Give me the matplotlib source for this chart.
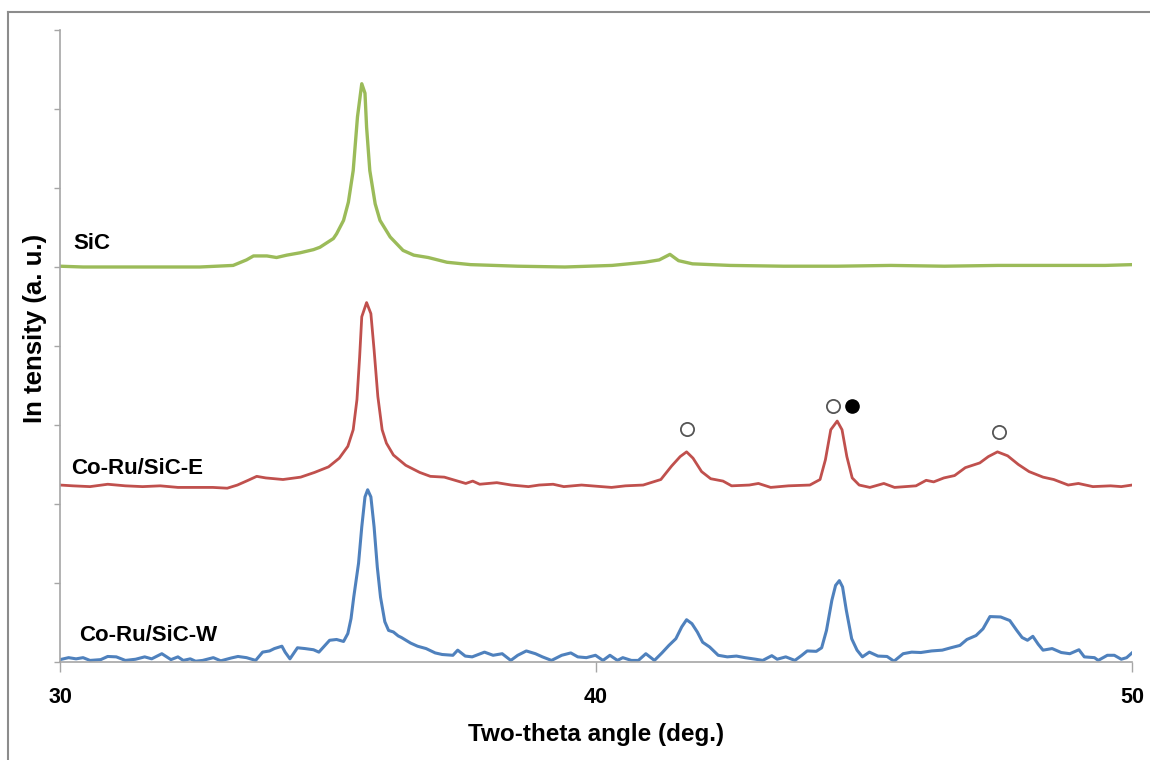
import numpy as np
import matplotlib
matplotlib.use('Agg')
import matplotlib.pyplot as plt
from matplotlib.lines import Line2D

plt.rcParams['font.family'] = ['Liberation Sans', 'DejaVu Sans']

# XRD patterns (2-theta in deg, intensity in offset a.u.)
sic_tt = [30.0, 30.43, 30.75, 31.37, 31.99, 32.61, 33.23, 33.48, 33.61, 33.86, 34.04, 34.23,
          34.48, 34.73, 34.85, 35.1, 35.16, 35.29, 35.38, 35.47, 35.55, 35.63, 35.69, 35.72,
          35.78, 35.88, 35.97, 36.16, 36.4, 36.6, 36.87, 37.22, 37.66, 38.54, 39.42, 40.3,
          40.91, 41.18, 41.38, 41.54, 41.8, 42.5, 43.5, 44.5, 45.5, 46.5, 47.5, 48.5, 49.5, 50.0]
sic_int = [5.01, 5.0, 5.0, 5.0, 5.0, 5.0, 5.02, 5.09, 5.14, 5.14, 5.12, 5.15,
           5.18, 5.22, 5.25, 5.36, 5.42, 5.59, 5.82, 6.22, 6.9, 7.32, 7.2, 6.77,
           6.22, 5.8, 5.59, 5.38, 5.21, 5.15, 5.12, 5.06, 5.03, 5.01, 5.0, 5.02,
           5.06, 5.09, 5.16, 5.08, 5.04, 5.02, 5.01, 5.01, 5.02, 5.01, 5.02, 5.02, 5.02, 5.03]

e_tt = [30.0, 30.24, 30.56, 30.89, 31.22, 31.54, 31.87, 32.2, 32.53, 32.85, 33.12, 33.31,
        33.51, 33.67, 33.84, 34.16, 34.49, 34.75, 35.01, 35.21, 35.37, 35.47, 35.54, 35.59,
        35.63, 35.72, 35.8, 35.86, 35.93, 36.01, 36.09, 36.22, 36.45, 36.71, 36.91, 37.17,
        37.37, 37.57, 37.7, 37.83, 38.15, 38.42, 38.74, 38.94, 39.2, 39.4, 39.73, 40.1,
        40.29, 40.55, 40.88, 41.21, 41.41, 41.57, 41.69, 41.81, 41.97, 42.14, 42.37, 42.53,
        42.86, 43.03, 43.26, 43.59, 43.99, 44.18, 44.28, 44.38, 44.5, 44.59, 44.68, 44.78,
        44.91, 45.11, 45.37, 45.57, 45.97, 46.16, 46.3, 46.49, 46.69, 46.89, 47.16, 47.32,
        47.49, 47.68, 47.88, 48.08, 48.34, 48.54, 48.81, 49.0, 49.27, 49.6, 49.8, 50.0]
e_int = [2.24, 2.23, 2.22, 2.25, 2.23, 2.22, 2.23, 2.21, 2.21, 2.21, 2.2, 2.24,
         2.3, 2.35, 2.33, 2.31, 2.34, 2.4, 2.47, 2.58, 2.73, 2.94, 3.32, 3.86,
         4.37, 4.55, 4.41, 3.95, 3.36, 2.94, 2.77, 2.62, 2.49, 2.4, 2.35, 2.34,
         2.3, 2.26, 2.29, 2.25, 2.27, 2.24, 2.22, 2.24, 2.25, 2.22, 2.24, 2.22,
         2.21, 2.23, 2.24, 2.31, 2.48, 2.6, 2.66, 2.58, 2.41, 2.32, 2.29, 2.23,
         2.24, 2.26, 2.21, 2.23, 2.24, 2.31, 2.56, 2.94, 3.05, 2.94, 2.6, 2.33,
         2.24, 2.21, 2.26, 2.21, 2.23, 2.3, 2.28, 2.33, 2.36, 2.46, 2.52, 2.6,
         2.66, 2.61, 2.5, 2.41, 2.34, 2.31, 2.24, 2.26, 2.22, 2.23, 2.22, 2.24]

w_tt = [30.0, 30.16, 30.3, 30.43, 30.56, 30.76, 30.89, 31.05, 31.22, 31.41, 31.58, 31.71,
        31.9, 32.07, 32.2, 32.3, 32.43, 32.53, 32.66, 32.86, 33.0, 33.19, 33.32, 33.48,
        33.65, 33.78, 33.91, 34.0, 34.14, 34.2, 34.29, 34.43, 34.57, 34.73, 34.83, 35.03,
        35.16, 35.29, 35.37, 35.43, 35.48, 35.57, 35.63, 35.69, 35.74, 35.8, 35.86, 35.92,
        35.98, 36.06, 36.13, 36.22, 36.31, 36.37, 36.54, 36.67, 36.83, 37.0, 37.13, 37.33,
        37.42, 37.56, 37.69, 37.92, 38.08, 38.25, 38.41, 38.54, 38.7, 38.87, 39.0, 39.17,
        39.36, 39.53, 39.66, 39.82, 39.99, 40.13, 40.26, 40.4, 40.5, 40.66, 40.79, 40.93,
        41.09, 41.23, 41.36, 41.49, 41.6, 41.69, 41.79, 41.89, 41.99, 42.12, 42.28, 42.45,
        42.62, 42.78, 42.98, 43.11, 43.28, 43.38, 43.54, 43.71, 43.84, 43.94, 44.11, 44.21,
        44.3, 44.4, 44.47, 44.54, 44.6, 44.67, 44.77, 44.87, 44.97, 45.1, 45.26, 45.43,
        45.56, 45.73, 45.89, 46.06, 46.26, 46.46, 46.62, 46.79, 46.92, 47.09, 47.22, 47.35,
        47.55, 47.72, 47.85, 47.95, 48.05, 48.15, 48.25, 48.34, 48.51, 48.68, 48.84, 49.01,
        49.11, 49.3, 49.37, 49.54, 49.67, 49.8, 49.9, 50.0]
w_int = [0.03, 0.055, 0.04, 0.055, 0.02, 0.03, 0.07, 0.065, 0.02, 0.035, 0.065, 0.04,
         0.105, 0.03, 0.065, 0.02, 0.04, 0.01, 0.02, 0.055, 0.015, 0.05, 0.07, 0.055,
         0.02, 0.125, 0.14, 0.17, 0.2, 0.125, 0.04, 0.18, 0.17, 0.155, 0.125, 0.275,
         0.285, 0.26, 0.36, 0.55, 0.82, 1.25, 1.71, 2.09, 2.18, 2.09, 1.71, 1.2,
         0.82, 0.51, 0.4, 0.38, 0.33, 0.31, 0.24, 0.2, 0.17, 0.115, 0.095, 0.085,
         0.15, 0.075, 0.065, 0.125, 0.085, 0.105, 0.02, 0.085, 0.14, 0.105, 0.065, 0.02,
         0.085, 0.115, 0.065, 0.055, 0.085, 0.02, 0.085, 0.02, 0.055, 0.02, 0.02, 0.105,
         0.02, 0.115, 0.21, 0.295, 0.445, 0.535, 0.485, 0.38, 0.25, 0.19, 0.085, 0.065,
         0.075, 0.055, 0.035, 0.02, 0.08, 0.035, 0.065, 0.02, 0.085, 0.14, 0.135, 0.18,
         0.4, 0.78, 0.97, 1.03, 0.95, 0.655, 0.295, 0.15, 0.065, 0.125, 0.075, 0.07,
         0.01, 0.105, 0.125, 0.12, 0.14, 0.15, 0.18, 0.21, 0.285, 0.335, 0.42, 0.575,
         0.57, 0.525, 0.4, 0.31, 0.275, 0.325, 0.225, 0.15, 0.17, 0.12, 0.105, 0.155,
         0.065, 0.055, 0.02, 0.085, 0.085, 0.035, 0.055, 0.115]

# peak markers above the Co-Ru/SiC-E pattern
open_mark_tt = [41.7, 44.42, 47.52]
open_mark_int = [2.95, 3.24, 2.91]
full_mark_tt = [44.78]
full_mark_int = [3.24]

series_names = ['SiC', 'Co-Ru/SiC-E', 'Co-Ru/SiC-W']
name_tt = [30.24, 30.2, 30.36]
name_int = [5.3, 2.45, 0.34]

x_ticks = [30, 40, 50]

fig = plt.figure(figsize=(11.5, 7.6), dpi=100)
ax = fig.add_axes([60 / 1150, 98 / 760, 1072 / 1150, 632 / 760])

ax.plot(sic_tt, sic_int, color='#9BBB59', linewidth=2.4, solid_joinstyle='round')
ax.plot(e_tt, e_int, color='#C0504D', linewidth=2.0, solid_joinstyle='round')
ax.plot(w_tt, w_int, color='#4F81BD', linewidth=2.2, solid_joinstyle='round')

ax.plot(open_mark_tt, open_mark_int, 'o', markersize=9.5, markerfacecolor='white',
        markeredgecolor='#555555', markeredgewidth=1.3, linestyle='none')
ax.plot(full_mark_tt, full_mark_int, 'o', markersize=9.5, markerfacecolor='black',
        markeredgecolor='black', linestyle='none')

for name, tx, ty in zip(series_names, name_tt, name_int):
    ax.text(tx, ty, name, fontsize=16, fontweight='bold', ha='left', va='center')

ax.set_xlim(30, 50)
ax.set_ylim(0, 8)
ax.set_xticks(x_ticks)
ax.set_xticklabels([str(t) for t in x_ticks], fontsize=15.5, fontweight='bold')
ax.set_yticks(np.arange(0, 9))
ax.set_yticklabels([])
ax.tick_params(axis='x', direction='out', length=7, width=1, color='#A6A6A6', pad=11)
ax.tick_params(axis='y', direction='out', length=4, width=1, color='#A6A6A6')

for side in ['top', 'right']:
    ax.spines[side].set_visible(False)
for side in ['left', 'bottom']:
    ax.spines[side].set_color('#A6A6A6')
    ax.spines[side].set_linewidth(1.2)

ax.set_xlabel('Two-theta angle (deg.)', fontsize=17.5, fontweight='bold', labelpad=11)
ax.set_ylabel('In tensity (a. u.)', fontsize=18.5, fontweight='bold')
ax.yaxis.set_label_coords(-0.012, 0.528)

# gray frame (left and top edges visible in the original)
fig.add_artist(Line2D([8 / 1150, 8 / 1150], [0, 1 - 12 / 760], transform=fig.transFigure,
                      color='#8C8C8C', linewidth=1.5))
fig.add_artist(Line2D([8 / 1150, 1], [1 - 12 / 760, 1 - 12 / 760], transform=fig.transFigure,
                      color='#8C8C8C', linewidth=1.5))

fig.savefig('out.png', dpi=100)
